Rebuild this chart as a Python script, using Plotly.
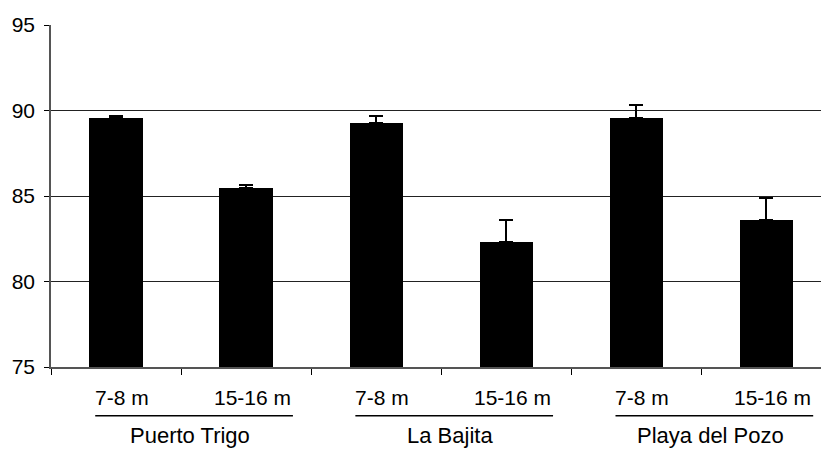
import plotly.graph_objects as go

# Sites and depth classes
sites = ["Puerto Trigo", "La Bajita", "Playa del Pozo"]
depths = ["7-8 m", "15-16 m"]

# Mean values per site/depth (in order: site1 shallow, site1 deep, ...)
means = [89.55, 85.45, 89.25, 82.3, 89.55, 83.6]
# Upper error (standard error)
errors = [0.12, 0.22, 0.42, 1.3, 0.8, 1.3]

y_ticks = [75, 80, 85, 90, 95]

positions = list(range(len(means)))

fig = go.Figure()
fig.add_trace(go.Bar(
    x=positions,
    y=means,
    width=0.41,
    marker=dict(color="black", line=dict(width=0)),
    error_y=dict(type="data", array=errors, arrayminus=[0] * len(errors),
                 symmetric=False, color="black", thickness=2, width=7),
))

font_main = "Liberation Sans, Arial, sans-serif"

annotations = []
shapes = []
for s_idx, site in enumerate(sites):
    first = s_idx * len(depths)
    for d_idx, depth in enumerate(depths):
        annotations.append(dict(
            x=first + d_idx, y=-0.0906, xref="x", yref="paper",
            text=depth, showarrow=False, xanchor="center", yanchor="middle",
            xshift=6, font=dict(family=font_main, size=21, color="black"),
        ))
    annotations.append(dict(
        x=first + 0.57, y=-0.201, xref="x", yref="paper",
        text=site, showarrow=False, xanchor="center", yanchor="middle",
        font=dict(family=font_main, size=22, color="black"),
    ))
    shapes.append(dict(
        type="line", xref="x", yref="paper",
        x0=first - 0.16, x1=first + 1.36, y0=-0.1424, y1=-0.1424,
        line=dict(color="black", width=1.5),
    ))

fig.update_layout(
    width=821, height=450,
    margin=dict(l=51, r=0, t=25, b=83),
    paper_bgcolor="white", plot_bgcolor="white",
    showlegend=False,
    bargap=0,
    annotations=annotations,
    shapes=shapes,
    font=dict(family=font_main, color="black"),
)

fig.update_xaxes(
    range=[-0.5, 5.42],
    tickvals=[p - 0.5 for p in positions],
    ticktext=[""] * len(positions),
    ticks="outside", ticklen=6, tickcolor="black", tickwidth=1,
    showgrid=False, zeroline=False,
    showline=True, linecolor="#555", linewidth=1.5,
)

fig.update_yaxes(
    range=[75, 95],
    tickvals=y_ticks,
    ticks="outside", ticklen=5, tickcolor="black", tickwidth=1,
    tickfont=dict(family=font_main, size=21, color="black"),
    showgrid=True, gridcolor="#222", gridwidth=1,
    zeroline=False,
    showline=True, linecolor="#555", linewidth=1.5,
    ticklabelstandoff=5,
)

fig.write_html("out.html")
